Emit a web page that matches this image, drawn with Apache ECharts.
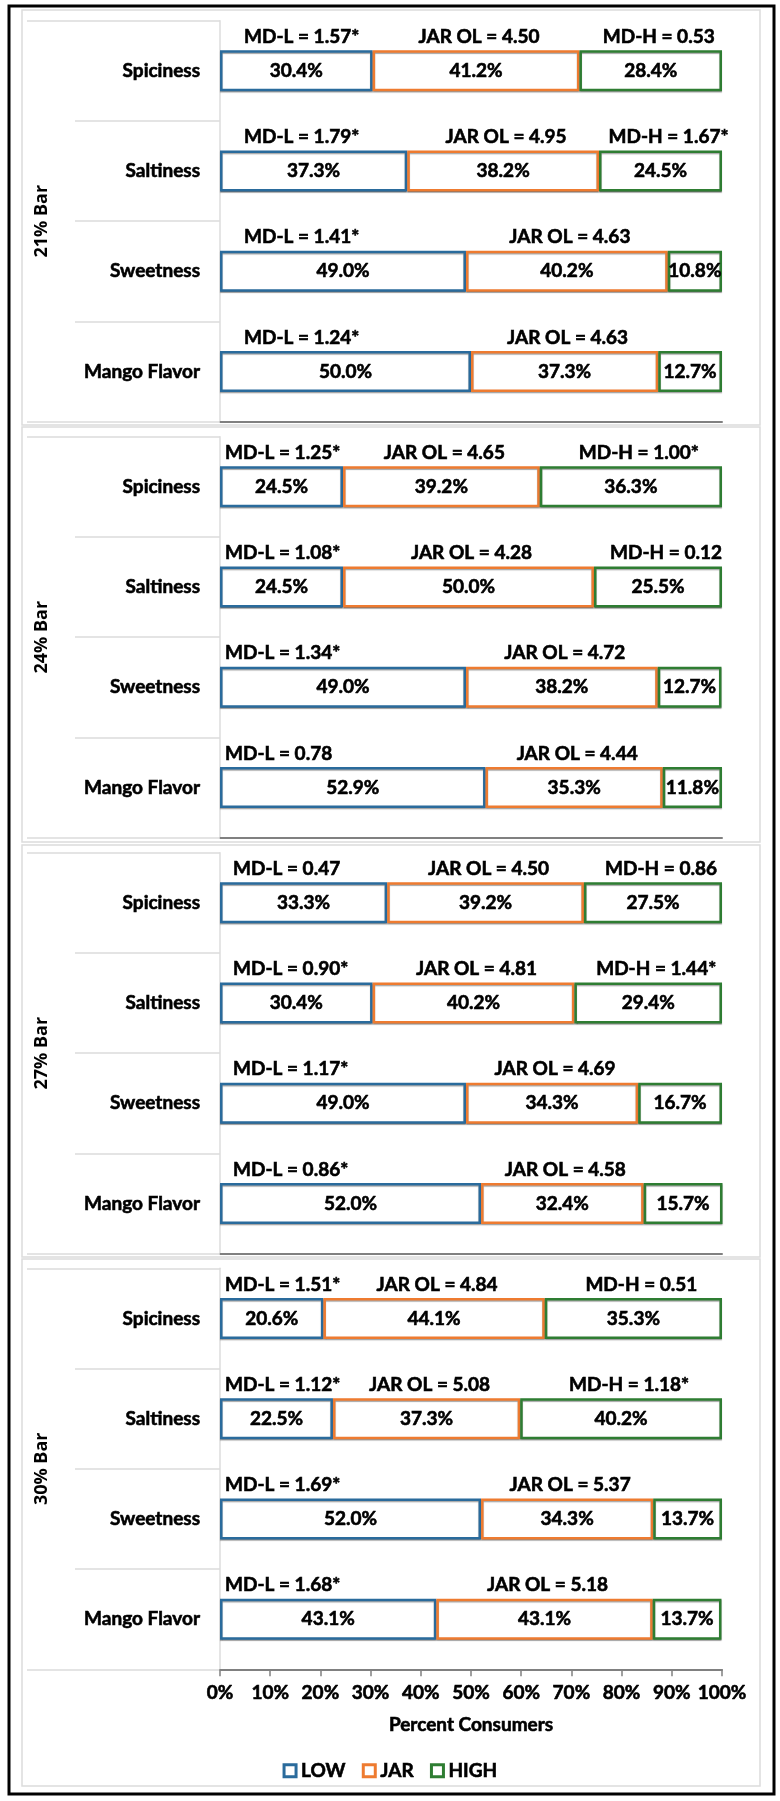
<!DOCTYPE html>
<html><head><meta charset="utf-8">
<script src="https://cdn.jsdelivr.net/npm/echarts@6/dist/echarts.min.js"></script>
<style>html,body{margin:0;padding:0;background:#fff}#chart{width:780px;height:1801px}</style>
</head><body><div id="chart"></div>
<script>
// ---- data ----
const groups = ['21% Bar', '24% Bar', '27% Bar', '30% Bar'];
const attributes = ['Spiciness', 'Saltiness', 'Sweetness', 'Mango Flavor'];
const lowPct  = [[30.4, 37.3, 49.0, 50.0], [24.5, 24.5, 49.0, 52.9], [33.3, 30.4, 49.0, 52.0], [20.6, 22.5, 52.0, 43.1]];
const jarPct  = [[41.2, 38.2, 40.2, 37.3], [39.2, 50.0, 38.2, 35.3], [39.2, 40.2, 34.3, 32.4], [44.1, 37.3, 34.3, 43.1]];
const highPct = [[28.4, 24.5, 10.8, 12.7], [36.3, 25.5, 12.7, 11.8], [27.5, 29.4, 16.7, 15.7], [35.3, 40.2, 13.7, 13.7]];
const mdLow  = [['1.57*', '1.79*', '1.41*', '1.24*'], ['1.25*', '1.08*', '1.34*', '0.78'], ['0.47', '0.90*', '1.17*', '0.86*'], ['1.51*', '1.12*', '1.69*', '1.68*']];
const jarOL  = [['4.50', '4.95', '4.63', '4.63'], ['4.65', '4.28', '4.72', '4.44'], ['4.50', '4.81', '4.69', '4.58'], ['4.84', '5.08', '5.37', '5.18']];
const mdHigh = [['0.53', '1.67*', null, null], ['1.00*', '0.12', null, null], ['0.86', '1.44*', null, null], ['0.51', '1.18*', null, null]];
const seriesNames = ['LOW', 'JAR', 'HIGH'];
const xTicks = [0, 10, 20, 30, 40, 50, 60, 70, 80, 90, 100];

// ---- layout / style ----
const FONT = 'Lato';
const COLORS = { LOW: '#2A6B9C', JAR: '#EE7B30', HIGH: '#2E7D32' };
const GRID_TOPS = [20.7, 436.7, 852.7, 1268.3];
const GRID_H = 401;
const MDL_OFFSET = [24, 5, 13, 5];
const LIGHT = '#dcdcdc';
const AXIS_DARK = '#808080';

const chart = echarts.init(document.getElementById('chart'), null, { renderer: 'canvas' });
const valuesBy = { LOW: lowPct, JAR: jarPct, HIGH: highPct };
const txt = (size) => ({ fontFamily: FONT, fontWeight: 'bold', fontSize: size, color: '#000',
  textBorderColor: '#000', textBorderWidth: 0.6 });

const grid = [], xAxis = [], yAxis = [], series = [];
groups.forEach((g, i) => {
  grid.push({ left: 220, width: 502, top: GRID_TOPS[i], height: GRID_H });
  const last = i === groups.length - 1;
  xAxis.push({
    gridIndex: i, type: 'value', min: xTicks[0], max: xTicks[xTicks.length - 1], interval: xTicks[1] - xTicks[0],
    axisLine: { show: true, lineStyle: { color: AXIS_DARK, width: 2 } },
    axisTick: { show: last, length: 7, lineStyle: { color: AXIS_DARK, width: 1.5 } },
    axisLabel: Object.assign({ show: last, margin: 14, formatter: '{value}%' }, txt(19)),
    splitLine: { show: false },
    name: last ? 'Percent Consumers' : '', nameLocation: 'middle', nameGap: 46,
    nameTextStyle: txt(19)
  });
  yAxis.push({
    gridIndex: i, type: 'category', data: attributes, inverse: true,
    axisLine: { show: true, lineStyle: { color: LIGHT, width: 1.5 } },
    axisTick: { show: true, length: 145, lineStyle: { color: LIGHT, width: 1.5 } },
    axisLabel: Object.assign({ margin: 20 }, txt(19))
  });
  yAxis.push({
    gridIndex: i, type: 'category', data: [g], position: 'left', offset: 145,
    axisLine: { show: false },
    axisTick: { show: true, length: 48, lineStyle: { color: LIGHT, width: 1.5 } },
    axisLabel: { rotate: 90, margin: 24, fontFamily: 'Open Sans', fontWeight: 'bold', fontSize: 18, color: '#000' }
  });
  seriesNames.forEach((k) => {
    series.push({
      type: 'bar', name: k, xAxisIndex: i, yAxisIndex: 2 * i, stack: 'v' + i,
      barWidth: 41, barGap: '-100%', data: valuesBy[k][i],
      itemStyle: { color: '#fff', borderColor: COLORS[k], borderWidth: 2.5,
        shadowColor: 'rgba(0,0,0,0.35)', shadowOffsetY: 1.2, shadowBlur: 1 },
      label: Object.assign({ show: true, position: 'inside', formatter: (p) => p.value.toFixed(1) + '%' }, txt(19)),
      emphasis: { disabled: true }, animation: false
    });
    let labelCfg;
    if (k === 'LOW') {
      labelCfg = { position: [MDL_OFFSET[i], -4], align: 'left', verticalAlign: 'bottom',
        formatter: (p) => 'MD-L = ' + mdLow[i][p.dataIndex] };
    } else if (k === 'JAR') {
      labelCfg = { position: 'top', distance: 4, offset: [3, 0],
        formatter: (p) => 'JAR OL = ' + jarOL[i][p.dataIndex] };
    } else {
      labelCfg = { position: 'top', distance: 4, offset: [8, 0],
        formatter: (p) => mdHigh[i][p.dataIndex] ? 'MD-H = ' + mdHigh[i][p.dataIndex] : '' };
    }
    series.push({
      type: 'bar', name: k + ' note', xAxisIndex: i, yAxisIndex: 2 * i, stack: 'n' + i,
      barWidth: 41, barGap: '-100%', data: valuesBy[k][i], silent: true,
      itemStyle: { color: 'rgba(0,0,0,0)' },
      label: Object.assign({ show: true }, txt(19), labelCfg),
      emphasis: { disabled: true }, animation: false
    });
  });
});

const panelBoxes = [[10, 425], [427, 842], [845, 1257], [1259, 1786]];
const graphic = [
  { type: 'rect', z: -10, silent: true, shape: { x: 9, y: 6, width: 765, height: 1788 }, style: { fill: 'none', stroke: '#000', lineWidth: 3 } }
].concat(panelBoxes.map(([y0, y1]) => ({
  type: 'rect', z: -10, silent: true, shape: { x: 22, y: y0, width: 738, height: y1 - y0 },
  style: { fill: 'none', stroke: LIGHT, lineWidth: 1.5 }
})));

chart.setOption({
  animation: false,
  backgroundColor: '#fff',
  grid, xAxis, yAxis, series, graphic,
  legend: {
    data: seriesNames.map((k) => ({ name: k, itemStyle: { color: '#fff', borderColor: COLORS[k], borderWidth: 3 } })),
    icon: 'rect', itemWidth: 12, itemHeight: 12, itemGap: 16, top: 1756, left: 'center',
    textStyle: txt(19), selectedMode: false
  }
});
</script></body></html>
